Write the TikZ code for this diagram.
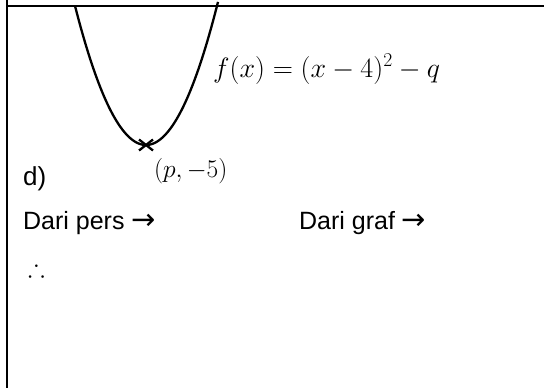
\RequirePackage{fix-cm}
\documentclass[tikz,border=0pt]{standalone}
\usepackage{fontspec}
\setmainfont{Liberation Sans}
\newfontfamily\arrowfont{DejaVu Sans}
\usepackage{amssymb}
\newcommand\toarrow{{\arrowfont\fontsize{29}{30}\selectfont →}}

\begin{document}
\begin{tikzpicture}[x=1pt,y=-1pt,line width=2.3pt,
  txt/.style={inner sep=0pt,anchor=base west,font=\fontsize{25}{30}\selectfont},
  eqn/.style={inner sep=0pt,anchor=base west}]
\def\k{0.0276}   % curvature of the parabola
\def\vx{146}     % vertex, x
\def\vy{145}     % vertex, y
\def\c{7}        % half size of the cross
\useasboundingbox (0,0) rectangle (544,388);
% frame: left rule and top rule
\draw[line width=2pt] (6.7,0) -- (6.7,388);
\draw[line width=2.4pt] (6,6) -- (544,6);
% the curve
\draw plot[domain=-71:72,samples=80] ({\vx+\x},{\vy-\k*\x*\x});
\coordinate (v) at (\vx,\vy);
\draw (v) ++(-\c,-5.5) -- ++(2*\c,11)
      (v) ++(-\c,5.5) -- ++(2*\c,-11);
% labels
\node[eqn,font=\fontsize{28}{33}\selectfont] (fx) at (212,77) {$f(x)=(x-4)^2-q$};
\node[eqn,font=\fontsize{25.5}{30}\selectfont] (pv) at (153,177) {$(p,-5)$};
\node[txt,font=\fontsize{26}{30}\selectfont] (d) at (22,185) {d)};
\node[txt] (pers) at (22,229) {Dari pers \toarrow};
\node[txt] (graf) at (298,229) {Dari graf \toarrow};
\node[eqn,font=\fontsize{25}{30}\selectfont] (thf) at (27,276) {$\therefore$};
\end{tikzpicture}
\end{document}
